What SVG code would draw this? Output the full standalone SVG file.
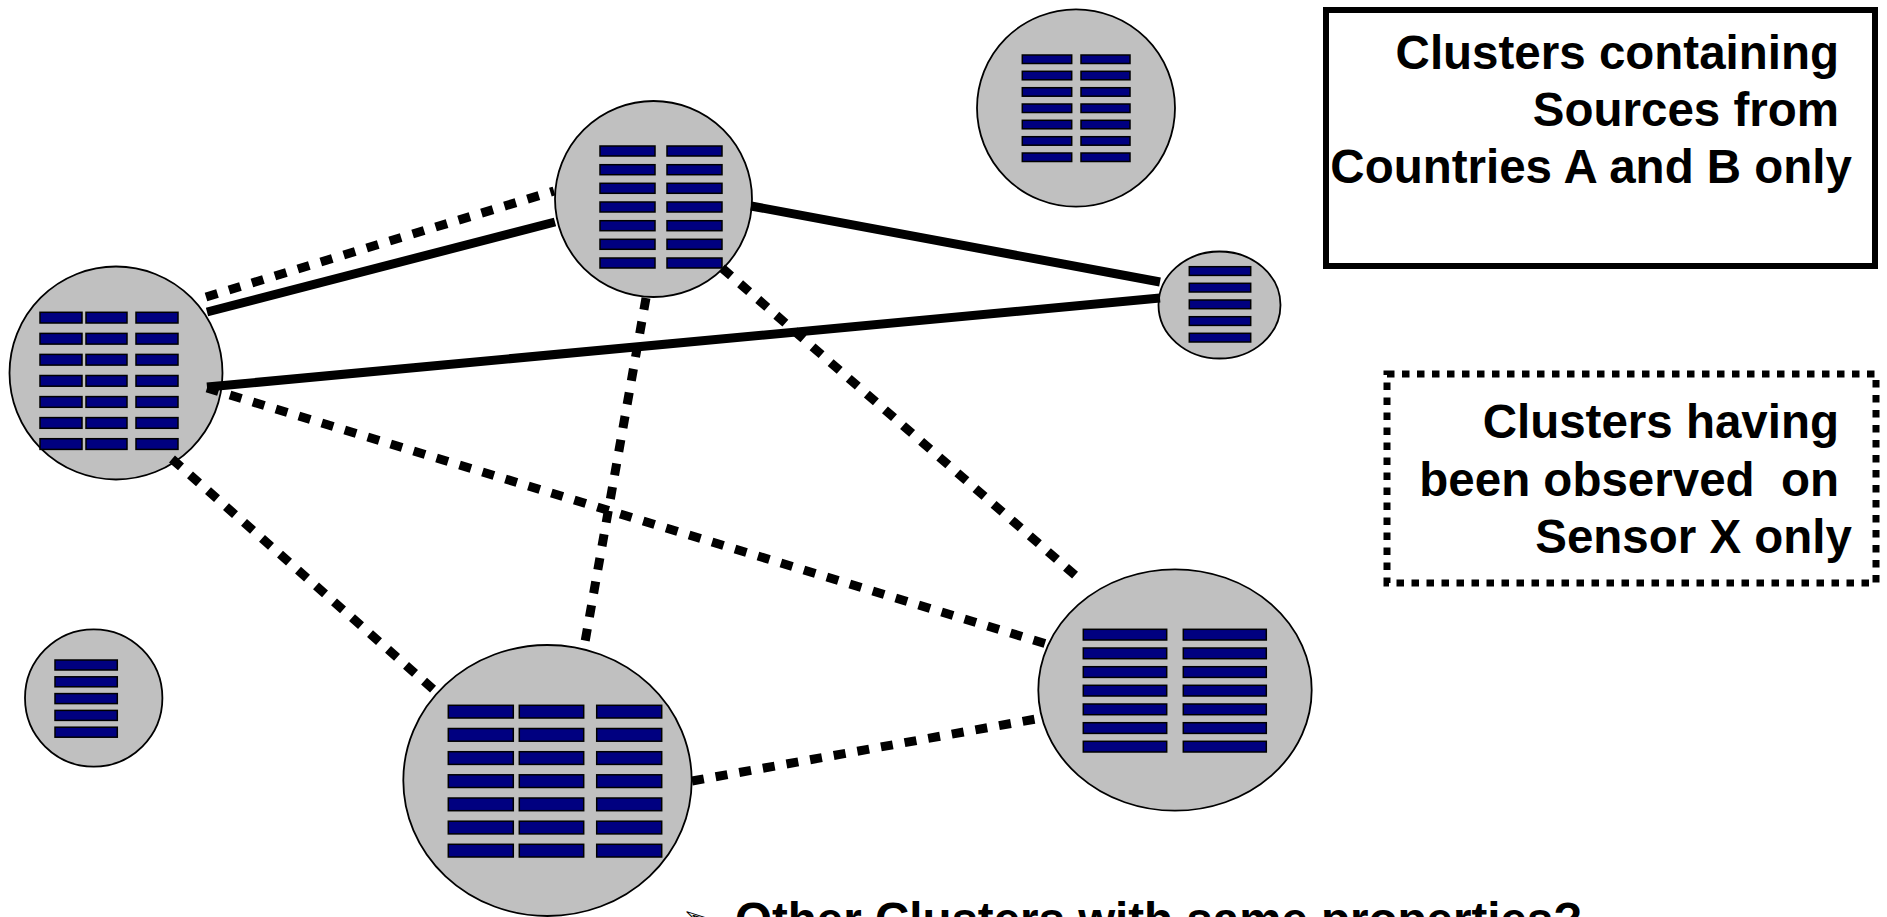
<svg xmlns="http://www.w3.org/2000/svg" width="1887" height="917" viewBox="0 0 1887 917">
  <style>
    .cluster { fill: #C0C0C0; stroke: #000; stroke-width: 1.8; }
    .bar { fill: #000080; stroke: #000; stroke-width: 1.5; }
    .solid { stroke: #000; stroke-width: 9; fill: none; }
    .dotted { stroke: #000; stroke-width: 9; stroke-dasharray: 12 12; fill: none; }
    .label { font-family: "Liberation Sans", Arial, sans-serif; font-weight: bold; font-size: 47.5px; fill: #000; }
    .right { text-anchor: end; }
  </style>

  <!-- cluster A (left, 3 columns) -->
  <g id="cluster-a">
    <ellipse class="cluster" cx="116" cy="373" rx="106.5" ry="106.5"/>
    <g class="bar">
      <rect x="40" y="312.3" width="42" height="10.7"/><rect x="86" y="312.3" width="41" height="10.7"/><rect x="136" y="312.3" width="42" height="10.7"/>
      <rect x="40" y="333.4" width="42" height="10.7"/><rect x="86" y="333.4" width="41" height="10.7"/><rect x="136" y="333.4" width="42" height="10.7"/>
      <rect x="40" y="354.4" width="42" height="10.7"/><rect x="86" y="354.4" width="41" height="10.7"/><rect x="136" y="354.4" width="42" height="10.7"/>
      <rect x="40" y="375.5" width="42" height="10.7"/><rect x="86" y="375.5" width="41" height="10.7"/><rect x="136" y="375.5" width="42" height="10.7"/>
      <rect x="40" y="396.6" width="42" height="10.7"/><rect x="86" y="396.6" width="41" height="10.7"/><rect x="136" y="396.6" width="42" height="10.7"/>
      <rect x="40" y="417.6" width="42" height="10.7"/><rect x="86" y="417.6" width="41" height="10.7"/><rect x="136" y="417.6" width="42" height="10.7"/>
      <rect x="40" y="438.7" width="42" height="10.7"/><rect x="86" y="438.7" width="41" height="10.7"/><rect x="136" y="438.7" width="42" height="10.7"/>
    </g>
  </g>

  <!-- cluster B (top centre, 2 columns) -->
  <g id="cluster-b">
    <ellipse class="cluster" cx="653.5" cy="199" rx="98.5" ry="98"/>
    <g class="bar">
      <rect x="600" y="146" width="55" height="10"/><rect x="667" y="146" width="55" height="10"/>
      <rect x="600" y="164.7" width="55" height="10"/><rect x="667" y="164.7" width="55" height="10"/>
      <rect x="600" y="183.3" width="55" height="10"/><rect x="667" y="183.3" width="55" height="10"/>
      <rect x="600" y="202" width="55" height="10"/><rect x="667" y="202" width="55" height="10"/>
      <rect x="600" y="220.7" width="55" height="10"/><rect x="667" y="220.7" width="55" height="10"/>
      <rect x="600" y="239.3" width="55" height="10"/><rect x="667" y="239.3" width="55" height="10"/>
      <rect x="600" y="258" width="55" height="10"/><rect x="667" y="258" width="55" height="10"/>
    </g>
  </g>

  <!-- cluster C (top right, isolated) -->
  <g id="cluster-c">
    <ellipse class="cluster" cx="1076" cy="108" rx="99" ry="98.7"/>
    <g class="bar">
      <rect x="1022.3" y="55" width="49.4" height="8.5"/><rect x="1081" y="55" width="49" height="8.5"/>
      <rect x="1022.3" y="71.3" width="49.4" height="8.5"/><rect x="1081" y="71.3" width="49" height="8.5"/>
      <rect x="1022.3" y="87.7" width="49.4" height="8.5"/><rect x="1081" y="87.7" width="49" height="8.5"/>
      <rect x="1022.3" y="104" width="49.4" height="8.5"/><rect x="1081" y="104" width="49" height="8.5"/>
      <rect x="1022.3" y="120.3" width="49.4" height="8.5"/><rect x="1081" y="120.3" width="49" height="8.5"/>
      <rect x="1022.3" y="136.7" width="49.4" height="8.5"/><rect x="1081" y="136.7" width="49" height="8.5"/>
      <rect x="1022.3" y="153" width="49.4" height="8.5"/><rect x="1081" y="153" width="49" height="8.5"/>
    </g>
  </g>

  <!-- cluster D (small, right) -->
  <g id="cluster-d">
    <ellipse class="cluster" cx="1219.5" cy="305" rx="61" ry="53.5"/>
    <g class="bar">
      <rect x="1189.3" y="266.7" width="61.4" height="8.7"/>
      <rect x="1189.3" y="283.3" width="61.4" height="8.7"/>
      <rect x="1189.3" y="300" width="61.4" height="8.7"/>
      <rect x="1189.3" y="316.7" width="61.4" height="8.7"/>
      <rect x="1189.3" y="333.3" width="61.4" height="8.7"/>
    </g>
  </g>

  <!-- cluster E (lower right, 2 columns) -->
  <g id="cluster-e">
    <ellipse class="cluster" cx="1175" cy="690" rx="136.7" ry="120.7"/>
    <g class="bar">
      <rect x="1083.3" y="629.3" width="83.4" height="10.7"/><rect x="1183.3" y="629.3" width="83" height="10.7"/>
      <rect x="1083.3" y="648" width="83.4" height="10.7"/><rect x="1183.3" y="648" width="83" height="10.7"/>
      <rect x="1083.3" y="666.7" width="83.4" height="10.7"/><rect x="1183.3" y="666.7" width="83" height="10.7"/>
      <rect x="1083.3" y="685.3" width="83.4" height="10.7"/><rect x="1183.3" y="685.3" width="83" height="10.7"/>
      <rect x="1083.3" y="704" width="83.4" height="10.7"/><rect x="1183.3" y="704" width="83" height="10.7"/>
      <rect x="1083.3" y="722.7" width="83.4" height="10.7"/><rect x="1183.3" y="722.7" width="83" height="10.7"/>
      <rect x="1083.3" y="741.3" width="83.4" height="10.7"/><rect x="1183.3" y="741.3" width="83" height="10.7"/>
    </g>
  </g>

  <!-- cluster F (bottom centre, 3 columns) -->
  <g id="cluster-f">
    <ellipse class="cluster" cx="547.5" cy="780.5" rx="144.2" ry="135.5"/>
    <g class="bar">
      <rect x="448.3" y="705.3" width="65" height="12.7"/><rect x="519.3" y="705.3" width="64.4" height="12.7"/><rect x="596.7" y="705.3" width="65" height="12.7"/>
      <rect x="448.3" y="728.5" width="65" height="12.7"/><rect x="519.3" y="728.5" width="64.4" height="12.7"/><rect x="596.7" y="728.5" width="65" height="12.7"/>
      <rect x="448.3" y="751.7" width="65" height="12.7"/><rect x="519.3" y="751.7" width="64.4" height="12.7"/><rect x="596.7" y="751.7" width="65" height="12.7"/>
      <rect x="448.3" y="774.8" width="65" height="12.7"/><rect x="519.3" y="774.8" width="64.4" height="12.7"/><rect x="596.7" y="774.8" width="65" height="12.7"/>
      <rect x="448.3" y="798" width="65" height="12.7"/><rect x="519.3" y="798" width="64.4" height="12.7"/><rect x="596.7" y="798" width="65" height="12.7"/>
      <rect x="448.3" y="821.2" width="65" height="12.7"/><rect x="519.3" y="821.2" width="64.4" height="12.7"/><rect x="596.7" y="821.2" width="65" height="12.7"/>
      <rect x="448.3" y="844.3" width="65" height="12.7"/><rect x="519.3" y="844.3" width="64.4" height="12.7"/><rect x="596.7" y="844.3" width="65" height="12.7"/>
    </g>
  </g>

  <!-- cluster G (small, lower left, isolated) -->
  <g id="cluster-g">
    <ellipse class="cluster" cx="93.7" cy="698" rx="68.7" ry="68.7"/>
    <g class="bar">
      <rect x="55" y="660" width="62.3" height="10"/>
      <rect x="55" y="676.8" width="62.3" height="10"/>
      <rect x="55" y="693.6" width="62.3" height="10"/>
      <rect x="55" y="710.4" width="62.3" height="10"/>
      <rect x="55" y="727.2" width="62.3" height="10"/>
    </g>
  </g>

  <!-- links: solid = shared source countries, dotted = shared sensor -->
  <g id="connectors">
    <line class="solid" x1="207" y1="312" x2="555" y2="222"/>
    <line class="solid" x1="751" y1="206" x2="1160" y2="282"/>
    <line class="solid" x1="207" y1="387" x2="1160" y2="298"/>
    <line class="dotted" x1="206" y1="297" x2="554" y2="191"/>
    <line class="dotted" x1="646" y1="298" x2="585" y2="642"/>
    <line class="dotted" x1="722" y1="268" x2="1084" y2="583"/>
    <line class="dotted" x1="207" y1="388" x2="1053" y2="646"/>
    <line class="dotted" x1="172" y1="459" x2="434" y2="690"/>
    <line class="dotted" x1="692" y1="781" x2="1036" y2="719"/>
  </g>

  <!-- legend: solid frame -->
  <g id="legend-solid">
    <text class="label right" x="1839" y="69">Clusters containing</text>
    <text class="label right" x="1839" y="126">Sources from</text>
    <text class="label right" x="1852" y="183">Countries A and B only</text>
    <rect x="1326" y="10" width="549" height="256" fill="none" stroke="#000" stroke-width="6"/>
  </g>

  <!-- legend: dotted frame -->
  <g id="legend-dotted">
    <rect x="1387" y="374" width="489" height="209" fill="none" stroke="#000" stroke-width="7" stroke-dasharray="7.5 7.5"/>
    <text class="label right" x="1839" y="438">Clusters having</text>
    <text class="label right" x="1839" y="495.5">been observed&#160; on</text>
    <text class="label right" x="1852" y="553">Sensor X only</text>
  </g>

  <!-- question bullet -->
  <g id="question">
    <text x="682" y="934" font-family="'DejaVu Sans', sans-serif" font-size="42" fill="#fff" stroke="#000" stroke-width="1">➢</text>
    <text class="label" x="735" y="936">Other Clusters with same properties?</text>
  </g>
</svg>
